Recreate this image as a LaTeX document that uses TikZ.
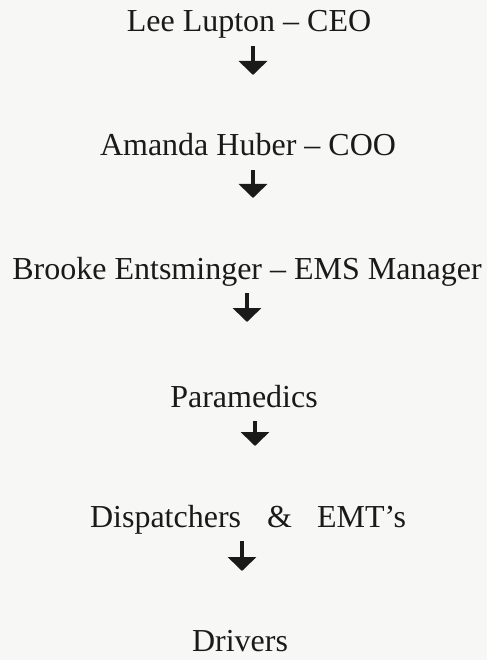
\documentclass[tikz,border=0pt]{standalone}
\usepackage{fontspec}
\setmainfont{Liberation Serif}
\usepackage{tikz}
\usetikzlibrary{arrows.meta}
\definecolor{scanInk}{HTML}{1A1A1A}
\definecolor{scanPaper}{HTML}{F7F7F5}
\newcommand{\rolenode}[4]{%
 \node[font=\fontsize{32}{40}\selectfont, text=scanInk, anchor=base, inner sep=0pt, text depth=0pt] (#3) at (#1,#2) {#4};}
\newcommand{\downto}[1]{%
 \draw[-{Triangle[width=28pt,length=14pt]}, line width=4.5pt, scanInk, shorten <=14pt] (#1.south -| #1-tip) -- (#1-tip);}

\begin{document}
\begin{tikzpicture}[x=1pt,y=-1pt]
\fill[scanPaper] (0,0) rectangle (487,660);
\useasboundingbox (0,0) rectangle (487,660);
\rolenode{249}{32}{lee}{Lee Lupton -- CEO}
\rolenode{248}{156}{amanda}{Amanda Huber -- COO}
\rolenode{247}{279}{brooke}{Brooke Entsminger -- EMS Manager}
\rolenode{244}{407}{medics}{Paramedics}
\rolenode{248}{527}{dispatch}{Dispatchers\hspace{26pt}\&\hspace{25pt}EMT's}
\rolenode{240}{651}{drivers}{Drivers}
\coordinate (lee-tip) at (253,75);
\coordinate (amanda-tip) at (253,198);
\coordinate (brooke-tip) at (247,322);
\coordinate (medics-tip) at (255,446);
\coordinate (dispatch-tip) at (242,571);
\downto{lee}
\downto{amanda}
\downto{brooke}
\downto{medics}
\downto{dispatch}
\end{tikzpicture}
\end{document}
